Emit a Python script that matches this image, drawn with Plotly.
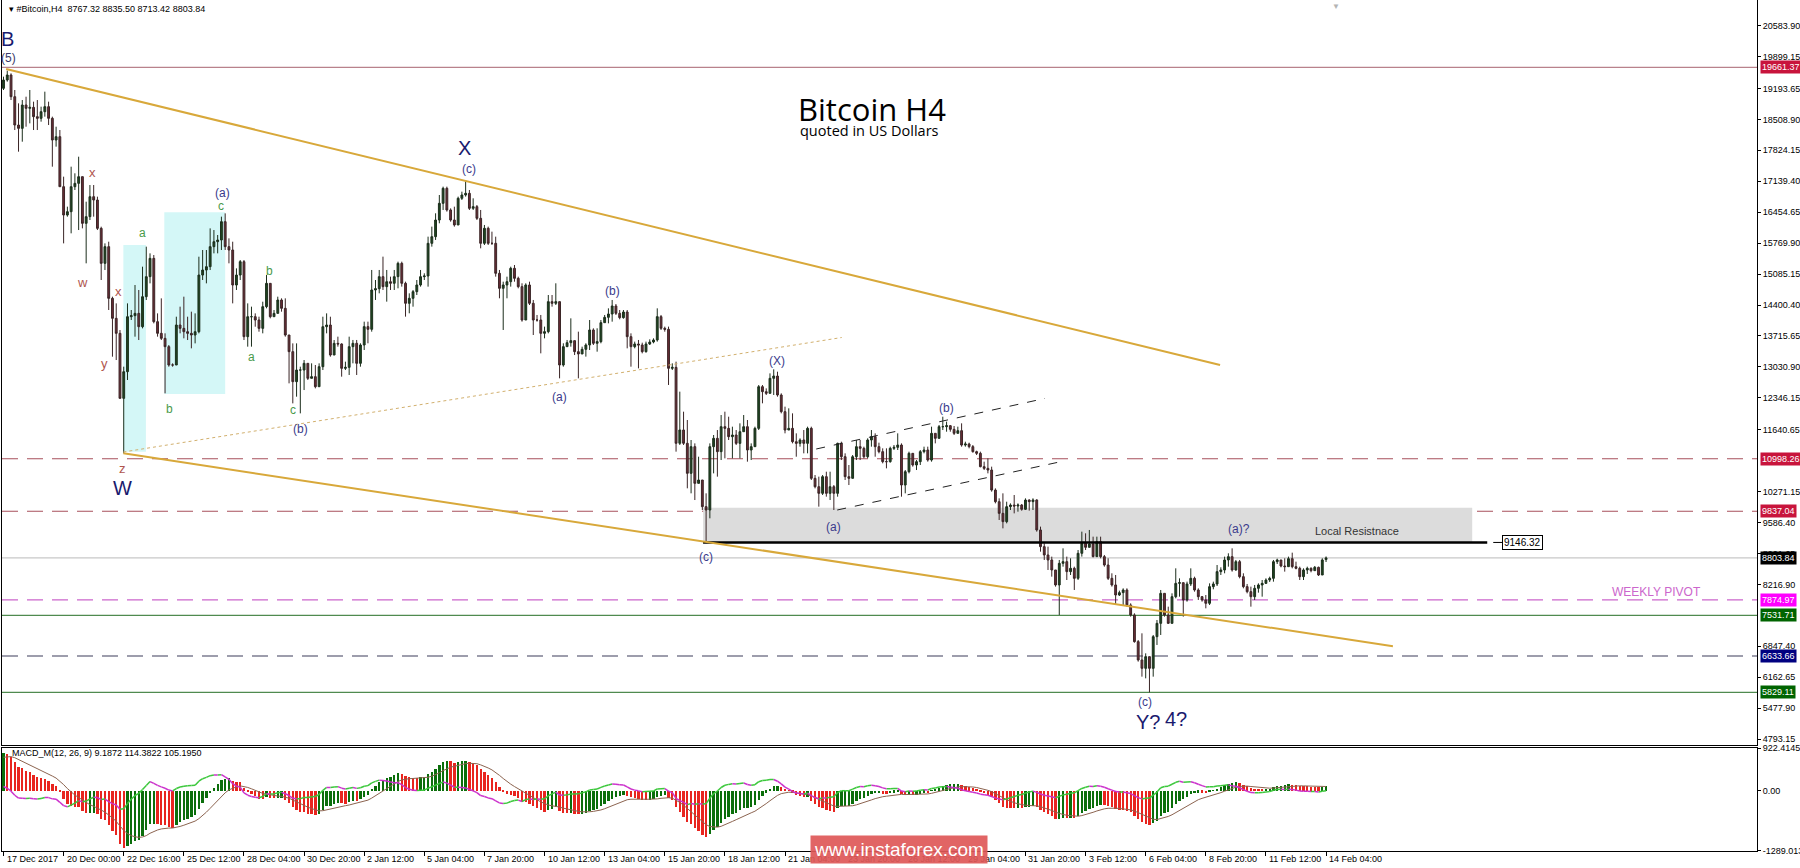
import plotly.graph_objects as go

# ── Bitcoin H4 bars, 17 Dec 2017 08:00 -> 14 Feb 2018 04:00 ──
FIRST_OPEN = 19196

CLOSE = [
    19380, 19491, 19011, 18384, 18310, 18827, 18753, 18775, 18569, 18532,
    18679, 18790, 18532, 18052, 18126, 17019, 16392, 16466, 17019, 17093,
    17241, 16208, 16356, 16798, 16724, 16097, 15323, 15692, 14548, 14106,
    13774, 12335, 12925, 14142, 14165, 14216, 13921, 14585, 15028, 15433,
    14032, 13774, 13663, 13479, 13073, 13073, 13958, 13884, 13810, 13774,
    13737, 13810, 15064, 15175, 15249, 15692, 15802, 15839, 16245, 15692,
    15618, 14843, 15064, 15360, 13700, 14142, 14142, 14069, 13884, 14364,
    14880, 14142, 14216, 14511, 14327, 13737, 13368, 12704, 12962, 12962,
    13110, 12778, 12815, 12593, 13036, 13921, 13958, 13294, 13552, 13538,
    12999, 13021, 13479, 13553, 13110, 13516, 13922, 13863, 14733, 14762,
    15028, 14807, 14917, 14881, 15028, 15323, 14881, 14438, 14549, 14696,
    14844, 15028, 15043, 15766, 15913, 16282, 16651, 16983, 16504, 16282,
    16172, 16762, 16835, 16872, 16540, 16577, 16319, 15766, 16098, 15766,
    15766, 15102, 14770, 14844, 14917, 15213, 14991, 14807, 14069, 14844,
    14438, 14069, 14069, 13774, 13811, 14475, 14438, 14475, 13073, 13479,
    13567, 13612, 13368, 13317, 13420, 13516, 13848, 13553, 13590, 14010,
    14128, 14202, 14379, 14217, 14121, 14246, 13700, 13479, 13538, 13516,
    13368, 13538, 13582, 13627, 14143, 13885, 13863, 12999, 13021, 11340,
    11635, 11340, 10676, 11266, 10454, 10528, 9938, 9864, 11266, 11450,
    11155, 11708, 11671, 11487, 11524, 11339, 11597, 11708, 11192, 11266,
    11671, 12593, 12483, 12446, 12778, 12829, 12409, 12040, 11634, 11671,
    11376, 11339, 11413, 11339, 11671, 10565, 10380, 10233, 10602, 10233,
    10380, 10233, 11339, 11044, 10602, 10565, 11044, 11266, 11229, 11044,
    11413, 11487, 11266, 11155, 10934, 10934, 11229, 11251, 11302, 10417,
    10712, 11118, 10860, 10934, 11155, 11192, 10970, 11561, 11450, 11708,
    11708, 11730, 11649, 11561, 11620, 11302, 11325, 11266, 11155, 11118,
    10823, 10786, 10749, 10306, 10048, 9790, 9606, 9938, 9974, 9952,
    9974, 9879, 10085, 10049, 10086, 9422, 9053, 8869, 8758, 8537,
    8205, 8684, 8721, 8500, 8573, 8352, 8906, 9127, 9038, 9112,
    8832, 9164, 8832, 8647, 8352, 8205, 7983, 8035, 8094, 7762,
    7541, 6951, 6545, 6360, 6619, 6360, 7061, 7356, 8020, 7541,
    7356, 7946, 8241, 8256, 7873, 8227, 8352, 8094, 7946, 7873,
    7799, 8168, 8227, 8500, 8537, 8758, 8832, 8537, 8721, 8389,
    8168, 8057, 7946, 8131, 8205, 8241, 8315, 8352, 8721, 8758,
    8625, 8610, 8787, 8610, 8573, 8389, 8537, 8573, 8522, 8596,
    8426, 8758, 8803.84,
]

HIGH = [
    19454, 19587, 19528, 19159, 18864, 18937, 19011, 19159, 18901, 18937,
    18790, 19122, 18901, 18569, 18347, 18273, 17241, 16577, 17462, 17315,
    17683, 17093, 16687, 17056, 17056, 16798, 16134, 15765, 15802, 14585,
    14437, 13847, 13036, 14437, 14290, 14843, 14733, 15249, 15692, 15544,
    15507, 14216, 14548, 13774, 13515, 13110, 14142, 14364, 14585, 14142,
    14253, 14216, 15470, 15618, 15618, 16097, 16060, 15950, 16356, 16429,
    15876, 15802, 15212, 15396, 15396, 14437, 14364, 14216, 14142, 14474,
    15064, 14880, 14290, 14585, 14548, 14548, 13737, 13552, 13552, 13036,
    13183, 13110, 13110, 13073, 13110, 14142, 14216, 14142, 13626, 13700,
    13553, 13147, 13700, 13627, 13627, 13553, 14032, 14032, 15176, 14954,
    15176, 15471, 15176, 15028, 15176, 15360, 15360, 14917, 14659, 14733,
    14954, 15176, 15102, 15913, 16135, 16430, 16835, 17020, 17020, 16540,
    16577, 16799, 16909, 17167, 16946, 16762, 16614, 16504, 16172, 16135,
    16024, 15913, 15176, 14917, 15028, 15249, 15286, 15028, 14881, 14881,
    14917, 14512, 14180, 14180, 13922, 14622, 14622, 14881, 14475, 13553,
    13627, 14106, 13553, 13811, 13479, 13553, 14069, 13885, 13885, 14069,
    14180, 14327, 14512, 14423, 14290, 14290, 14290, 13774, 13590, 13627,
    13567, 13590, 13641, 13663, 14327, 14180, 13922, 13922, 13110, 13147,
    12483, 12040, 11856, 11413, 11339, 11044, 10528, 10233, 11339, 11524,
    11634, 11966, 12040, 11929, 11708, 11634, 11782, 11966, 11856, 11339,
    11708, 12630, 12630, 12556, 12888, 12977, 12925, 12446, 12151, 12114,
    12003, 11561, 11450, 11634, 11708, 11708, 10638, 10602, 10638, 10712,
    10712, 10417, 11354, 11376, 11118, 10860, 11081, 11413, 11413, 11266,
    11450, 11634, 11561, 11354, 11229, 11229, 11266, 11302, 11561, 11339,
    10749, 11155, 11118, 10970, 11192, 11266, 11266, 11708, 11524, 11745,
    11929, 11819, 11745, 11723, 11708, 11782, 11376, 11354, 11302, 11177,
    11155, 10934, 11007, 10823, 10343, 10122, 10233, 10048, 10011, 10196,
    10011, 9997, 10122, 10101, 10123, 10101, 9496, 9127, 9053, 8832,
    8537, 8758, 9016, 8832, 8795, 8610, 8979, 9385, 9348, 9422,
    9274, 9274, 9274, 8869, 8795, 8463, 8426, 8079, 8131, 8131,
    7799, 7578, 6987, 7135, 6692, 6619, 7098, 7430, 8094, 7836,
    7725, 8020, 8573, 8352, 8131, 8278, 8573, 8389, 8131, 7961,
    7983, 8241, 8278, 8647, 8596, 8832, 8906, 9016, 8758, 8758,
    8463, 8227, 8168, 8205, 8241, 8315, 8352, 8389, 8758, 8787,
    8758, 8795, 8832, 8920, 8721, 8610, 8573, 8610, 8596, 8625,
    8610, 8795, 8835.50,
]

LOW = [
    19159, 19343, 18937, 18273, 17794, 18015, 18347, 18421, 18273, 18273,
    18458, 18569, 18384, 17462, 17905, 17019, 15765, 16356, 15987, 16946,
    16060, 16097, 15323, 16282, 16356, 16060, 14954, 15175, 14290, 13257,
    13183, 12335, 11118, 12741, 14069, 13700, 13626, 13884, 14511, 14880,
    13995, 13700, 13626, 12446, 13036, 13036, 13847, 13774, 13663, 13626,
    13442, 13552, 13774, 14954, 14880, 15175, 15544, 15544, 15618, 15618,
    15323, 14437, 14733, 14954, 13626, 13479, 13479, 13921, 13810, 13774,
    14327, 14106, 14142, 14216, 14253, 13700, 12667, 12224, 12372, 12003,
    12519, 12741, 12778, 12556, 12593, 12962, 13774, 13257, 13294, 13479,
    12815, 12962, 12852, 13110, 12852, 13036, 13405, 13553, 13811, 14512,
    14659, 14733, 14475, 14733, 14733, 14770, 14807, 14143, 14217, 14364,
    14622, 14807, 14954, 14807, 15692, 15840, 16209, 16504, 16467, 16245,
    16135, 16172, 16725, 16799, 16504, 16504, 16282, 15655, 15729, 15729,
    15729, 15028, 14549, 13848, 14549, 14807, 14917, 14770, 14032, 14069,
    14401, 13737, 14032, 13331, 13663, 13774, 14364, 14401, 12778, 13036,
    13479, 13479, 13294, 12778, 13331, 13258, 13405, 13516, 13368, 13553,
    14010, 13995, 14032, 14180, 14084, 14098, 13442, 13036, 13442, 12999,
    13331, 13346, 13516, 13553, 13590, 13848, 13811, 12631, 12962, 11155,
    11303, 11303, 10344, 10233, 10085, 10454, 9864, 9163, 9680, 10675,
    10602, 10970, 11007, 11413, 11007, 11302, 11007, 11597, 10934, 10970,
    11266, 11634, 12225, 12409, 12446, 12409, 12372, 12003, 11561, 11634,
    11339, 11044, 11266, 11118, 11118, 10528, 10343, 9938, 10196, 10159,
    10085, 9864, 10159, 10970, 10528, 10417, 10565, 10970, 10970, 11007,
    11007, 11266, 11044, 11118, 10897, 10786, 10911, 11192, 11192, 10159,
    10233, 10675, 10823, 10749, 10860, 11118, 10934, 10934, 11339, 11450,
    11634, 11597, 11597, 11524, 11561, 11266, 11266, 11229, 11133, 11081,
    10808, 10749, 10675, 10270, 10011, 9643, 9458, 9569, 9864, 9790,
    9827, 9849, 9864, 9850, 9864, 9385, 8942, 8758, 8537, 8389,
    8168, 7541, 8610, 8315, 8426, 8094, 8315, 8832, 8979, 9038,
    8817, 8832, 8795, 8610, 8315, 8168, 7762, 7961, 7762, 7725,
    7504, 6928, 6508, 6176, 6139, 5829, 6176, 6877, 7098, 7504,
    7342, 7356, 7910, 7946, 7504, 7836, 8182, 8057, 7873, 7836,
    7688, 7762, 8109, 8182, 8426, 8463, 8610, 8500, 8522, 8352,
    8131, 8020, 7725, 7873, 8035, 7946, 8227, 8271, 8278, 8669,
    8596, 8500, 8647, 8573, 8551, 8315, 8315, 8448, 8485, 8522,
    8404, 8537, 8713.42,
]

# MACD_M(12, 26, 9) state at the first visible bar
EMA_FAST_START = 18950
EMA_SLOW_START = 18100
SIGNAL_START = 700

TIME_LABELS = [
    "17 Dec 2017", "20 Dec 00:00", "22 Dec 16:00", "25 Dec 12:00", "28 Dec 04:00",
    "30 Dec 20:00", "2 Jan 12:00", "5 Jan 04:00", "7 Jan 20:00", "10 Jan 12:00",
    "13 Jan 04:00", "15 Jan 20:00", "18 Jan 12:00", "21 Jan 04:00", "23 Jan 20:00",
    "26 Jan 12:00", "29 Jan 04:00", "31 Jan 20:00", "3 Feb 12:00", "6 Feb 04:00",
    "8 Feb 20:00", "11 Feb 12:00", "14 Feb 04:00",
]
BARS_PER_LABEL = 16

PRICE_TICKS = [
    20583.90, 19899.15, 19193.65, 18508.90, 17824.15, 17139.40, 16454.65,
    15769.90, 15085.15, 14400.40, 13715.65, 13030.90, 12346.15, 11640.65,
    10271.15, 9586.40, 8901.65, 8216.90, 6847.40, 6162.65, 5477.90, 4793.15,
]
MACD_TICKS = [922.4145, 0.0, -1289.013]
MACD_TICK_TEXT = ["922.4145", "0.00", "-1289.013"]

# horizontal levels: value, line colour, dash, label box colour
LEVELS = [
    (19661.37, "#b9828c", "solid", "#c8143c"),
    (10998.26, "#a8505c", "longdash", "#c8143c"),
    (9837.04, "#a8505c", "longdash", "#c8143c"),
    (8803.84, "#c8c8c8", "solid", "#000000"),
    (7874.97, "#cc66cc", "longdash", "#ff00ff"),
    (7531.71, "#4f8a4f", "solid", "#006400"),
    (6633.66, "#3c3c5a", "longdash", "#000080"),
    (5829.11, "#4f8a4f", "solid", "#006400"),
]
RESISTANCE = 9146.32
ZONE_TOP = 9915

# trend lines: (bar0, price0, bar1, price1)
UPPER_TREND = (0.7, 19624, 323.8, 13075)
LOWER_TREND = (31.9, 11119, 369.8, 6848)
DOTTED_TREND = (31.9, 11148, 223.1, 13682)
CHANNEL_UP = (216.3, 11214, 277.2, 12334)
CHANNEL_DN = (221.9, 9864, 282.5, 10953)

# wave labels: text, bar, price, style
WAVES = [
    ("B", 1.1, 20288, "big"), ("(5)", 1.3, 19867, "five"),
    ("x", 23.8, 17343, "red"), ("w", 20.9, 14909, "red"),
    ("x", 30.7, 14710, "red"), ("y", 27.0, 13116, "red"),
    ("z", 31.8, 10792, "red"), ("W", 31.8, 10349, "big"),
    ("a", 37.1, 15992, "green"), ("b", 44.1, 12097, "green"),
    ("(a)", 58.2, 16877, "mid"), ("c", 57.9, 16590, "green"),
    ("a", 66.1, 13248, "green"), ("b", 70.9, 15151, "green"),
    ("c", 77.1, 12075, "green"), ("(b)", 79.0, 11655, "mid"),
    ("X", 122.8, 17875, "big"), ("(c)", 123.9, 17410, "mid"),
    ("(a)", 147.9, 12363, "mid"), ("(b)", 162.0, 14709, "mid"),
    ("(c)", 187.0, 8827, "mid"), ("(X)", 205.9, 13164, "mid"),
    ("(a)", 220.8, 9491, "mid"), ("(b)", 251.1, 12124, "mid"),
    ("(c)", 303.8, 5618, "mid"), ("(a)?", 328.9, 9446, "mid"),
    ("Y?", 304.6, 5173, "big"), ("4?", 312.1, 5240, "big"),
]

N = len(CLOSE)
assert len(HIGH) == N and len(LOW) == N

FONT = "'Liberation Sans', Arial, sans-serif"
X_RANGE = [-0.4, 466.7]
Y_RANGE = [4664.3, 21150.7]

bars = list(range(N))
opens = [FIRST_OPEN] + CLOSE[:-1]
opens[-1] = 8767.32
highs = [max(h, o, c) for h, o, c in zip(HIGH, opens, CLOSE)]
lows = [min(l, o, c) for l, o, c in zip(LOW, opens, CLOSE)]

# MACD_M: histogram = MACD, brown = signal, coloured line = MACD - signal
ef, es, sg = EMA_FAST_START, EMA_SLOW_START, SIGNAL_START
macd, signal = [], []
for c in CLOSE:
    ef += (c - ef) * 2 / 13
    es += (c - es) * 2 / 27
    m = ef - es
    sg += (m - sg) * 2 / 10
    macd.append(m)
    signal.append(sg)
osma = [m - s for m, s in zip(macd, signal)]
hist_colors = ["#0b6e0b" if i == 0 or macd[i] >= macd[i - 1] else "#e8251f" for i in bars]

up_x, up_y, dn_x, dn_y = [], [], [], []
for i in range(1, N):
    tx, ty = (up_x, up_y) if osma[i] >= osma[i - 1] else (dn_x, dn_y)
    tx += [i - 1, i, None]
    ty += [osma[i - 1], osma[i], None]

fig = go.Figure()

fig.add_trace(go.Candlestick(
    x=bars, open=opens, high=highs, low=lows, close=CLOSE,
    increasing=dict(line=dict(color="#1c2e1c", width=1), fillcolor="#1e4620"),
    decreasing=dict(line=dict(color="#3a2526", width=1), fillcolor="#6a2c36"),
    whiskerwidth=0, hoverinfo="skip", xaxis="x", yaxis="y",
))

fig.add_trace(go.Bar(
    x=bars, y=macd, marker=dict(color=hist_colors, line=dict(width=0)),
    width=0.62, xaxis="x2", yaxis="y2", hoverinfo="skip",
))
fig.add_trace(go.Scatter(x=bars, y=signal, mode="lines", line=dict(color="#8c6450", width=1),
                         xaxis="x2", yaxis="y2", hoverinfo="skip"))
fig.add_trace(go.Scatter(x=up_x, y=up_y, mode="lines", line=dict(color="#3cc83c", width=1.5),
                         xaxis="x2", yaxis="y2", hoverinfo="skip"))
fig.add_trace(go.Scatter(x=dn_x, y=dn_y, mode="lines", line=dict(color="#cc33cc", width=1.5),
                         xaxis="x2", yaxis="y2", hoverinfo="skip"))

shapes = [
    # cyan boxes
    dict(type="rect", xref="x", yref="y", x0=31.9, x1=37.9, y0=11155, y1=15729,
         fillcolor="#d4f7f7", line=dict(width=0), layer="below"),
    dict(type="rect", xref="x", yref="y", x0=42.8, x1=59.0, y0=12432, y1=16452,
         fillcolor="#d4f7f7", line=dict(width=0), layer="below"),
    # resistance zone
    dict(type="rect", xref="x", yref="y", x0=186.2, x1=390.9, y0=RESISTANCE, y1=ZONE_TOP,
         fillcolor="#dcdcdc", line=dict(width=0), layer="below"),
]
for val, col, dash, _ in LEVELS:
    shapes.append(dict(type="line", xref="paper", yref="y", x0=0, x1=1, y0=val, y1=val,
                       line=dict(color=col, width=1.2, dash="16px,9px" if dash == "longdash" else "solid"),
                       layer="below"))
shapes += [
    dict(type="line", xref="x", yref="y", x0=186.2, x1=394.9, y0=RESISTANCE, y1=RESISTANCE,
         line=dict(color="#000000", width=2.5)),
    dict(type="line", xref="x", yref="y", x0=396.5, x1=398.9, y0=RESISTANCE, y1=RESISTANCE,
         line=dict(color="#000000", width=1)),
]
for (b0, p0, b1, p1), col, dash, w in [
    (UPPER_TREND, "#d8a83a", "solid", 2),
    (LOWER_TREND, "#d8a83a", "solid", 2),
    (DOTTED_TREND, "#d2b06e", "dot", 1),
    (CHANNEL_UP, "#222222", "dash", 1),
    (CHANNEL_DN, "#222222", "dash", 1),
]:
    shapes.append(dict(type="line", xref="x", yref="y", x0=b0, y0=p0, x1=b1, y1=p1,
                       line=dict(color=col, width=w, dash=dash)))

ann = []
styles = {
    "big": dict(size=20, color="#1a1a6e"),
    "five": dict(size=12, color="#3a3a6a"),
    "mid": dict(size=12, color="#3a3a8c"),
    "red": dict(size=13, color="#b0564e"),
    "green": dict(size=12, color="#4a9a4a"),
}
for txt, b, p, st in WAVES:
    ann.append(dict(x=b, y=p, xref="x", yref="y", text=txt, showarrow=False,
                    font=dict(family=FONT, **styles[st])))

ann += [
    dict(x=0.0028, y=0.9895, xref="paper", yref="paper", xanchor="left", yanchor="middle",
         text="▾ #Bitcoin,H4  8767.32 8835.50 8713.42 8803.84", showarrow=False,
         font=dict(family=FONT, size=9, color="#000000")),
    dict(x=0.0045, y=0.115, xref="paper", yref="paper", xanchor="left", yanchor="middle",
         text="MACD_M(12, 26, 9) 9.1872 114.3822 105.1950", showarrow=False,
         font=dict(family=FONT, size=9, color="#000000")),
    dict(x=211.0, y=18740, xref="x", yref="y", xanchor="left", yanchor="middle",
         text="Bitcoin H4", showarrow=False,
         font=dict(family="Open Sans, sans-serif", size=31, color="#000000")),
    dict(x=211.4, y=18260, xref="x", yref="y", xanchor="left", yanchor="middle",
         text="quoted in US Dollars", showarrow=False,
         font=dict(family="Open Sans, sans-serif", size=14.5, color="#000000")),
    dict(x=348.5, y=9404, xref="x", yref="y", xanchor="left", yanchor="middle",
         text="Local Resistnace", showarrow=False,
         font=dict(family=FONT, size=11, color="#333333")),
    dict(x=398.9, y=RESISTANCE, xref="x", yref="y", xanchor="left", yanchor="middle",
         text="9146.32", showarrow=False, bgcolor="#ffffff", bordercolor="#000000",
         borderwidth=1, borderpad=1, font=dict(family=FONT, size=10, color="#000000")),
    dict(x=427.6, y=8047, xref="x", yref="y", xanchor="left", yanchor="middle",
         text="WEEKLY PIVOT", showarrow=False,
         font=dict(family=FONT, size=12, color="#cc66cc")),
    dict(x=354.7, y=1.0, xref="x", yref="paper", yanchor="top",
         text="▼", showarrow=False, font=dict(size=8, color="#b4b4b4")),
]
for val, _, _, box in LEVELS:
    ann.append(dict(x=1, y=val, xref="paper", yref="y", xanchor="left", yanchor="middle",
                    xshift=3, text=f"{val:.2f}", showarrow=False, bgcolor=box, borderpad=1,
                    font=dict(family=FONT, size=9, color="#ffffff")))
for k, lab in enumerate(TIME_LABELS):
    ann.append(dict(x=k * BARS_PER_LABEL, y=0, xref="x2", yref="paper", xanchor="left",
                    yanchor="middle", xshift=1, yshift=-8, text=lab, showarrow=False,
                    font=dict(family=FONT, size=9, color="#000000")))
ann.append(dict(x=0.511, y=0.0012, xref="paper", yref="paper", xanchor="center", yanchor="middle",
                text="www.instaforex.com", showarrow=False, bgcolor="rgba(222,88,88,0.92)",
                borderpad=3, font=dict(family=FONT, size=19, color="#ffffff")))

axis_common = dict(showgrid=False, zeroline=False, showline=True, mirror=True,
                   linecolor="#000000", linewidth=1)

fig.update_layout(
    width=1800, height=868,
    margin=dict(l=2, r=43, t=0, b=17, autoexpand=False),
    paper_bgcolor="white", plot_bgcolor="white",
    showlegend=False, bargap=0,
    font=dict(family=FONT, size=9, color="#000000"),
    xaxis=dict(domain=[0, 1], range=X_RANGE, anchor="y", showticklabels=False, ticks="",
               rangeslider=dict(visible=False), **axis_common),
    xaxis2=dict(domain=[0, 1], range=X_RANGE, anchor="y2", matches="x",
                tickvals=[k * BARS_PER_LABEL for k in range(len(TIME_LABELS))],
                ticks="outside", ticklen=4, tickcolor="#000000", showticklabels=False,
                **axis_common),
    yaxis=dict(domain=[0.1246, 1], range=Y_RANGE, side="right", anchor="x",
               tickvals=PRICE_TICKS, ticktext=[f"{v:.2f}" for v in PRICE_TICKS],
               ticks="outside", ticklen=3, tickcolor="#000000",
               tickfont=dict(family=FONT, size=9), **axis_common),
    yaxis2=dict(domain=[0, 0.121], range=[-1289.013, 922.4145], side="right", anchor="x2",
                tickvals=MACD_TICKS, ticktext=MACD_TICK_TEXT,
                ticks="outside", ticklen=3, tickcolor="#000000",
                tickfont=dict(family=FONT, size=9), **axis_common),
    shapes=shapes,
    annotations=ann,
)

# the page's default 8px body margin would push the chart off the window
fig.write_html("out.html", config={"displayModeBar": False},
               post_script="document.body.style.margin='0px';")
